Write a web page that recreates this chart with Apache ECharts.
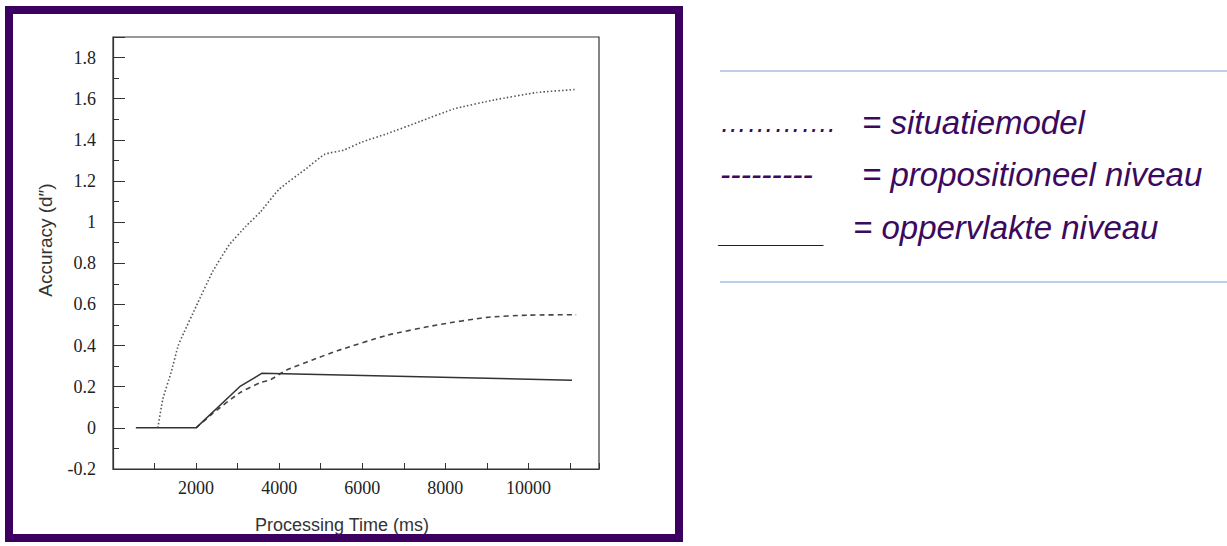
<!DOCTYPE html>
<html>
<head>
<meta charset="utf-8">
<script src="https://cdn.jsdelivr.net/npm/echarts@6/dist/echarts.min.js"></script>
<style>
  html, body { margin: 0; padding: 0; background: #ffffff; }
  #chart { width: 1227px; height: 546px; }
</style>
</head>
<body>
<div id="chart"></div>
<script>
// situatiemodel (dotted)
var situatieX = [1080, 1200, 1400, 1570, 1700, 2000, 2400, 2800, 3200, 3550, 4000, 4650, 5100, 5550, 6000, 6600, 7400, 8200, 9200, 10200, 11150];
var situatieY = [0, 0.14, 0.27, 0.40, 0.46, 0.59, 0.76, 0.89, 0.98, 1.05, 1.16, 1.26, 1.33, 1.35, 1.39, 1.43, 1.49, 1.55, 1.595, 1.63, 1.645];
// propositioneel niveau (dashed)
var propX = [2000, 2400, 3050, 3550, 3800, 4170, 4800, 5400, 6600, 7800, 9000, 10000, 11150];
var propY = [0, 0.07, 0.17, 0.22, 0.235, 0.28, 0.33, 0.375, 0.45, 0.50, 0.537, 0.548, 0.55];
// oppervlakte niveau (solid)
var oppX = [550, 2000, 3050, 3580, 11050];
var oppY = [0, 0, 0.2, 0.265, 0.232];

var xLabels = [2000, 4000, 6000, 8000, 10000];
var legendMarks = ['………….', '---------', '_______'];
var legendNames = ['= situatiemodel', '= propositioneel niveau', '= oppervlakte niveau'];

function pairs(xs, ys) {
  var out = [];
  for (var i = 0; i < xs.length; i++) out.push([xs[i], ys[i]]);
  return out;
}

var dom = document.getElementById('chart');
var myChart = echarts.init(dom, null, { renderer: 'svg' });

var ink = '#333333';
var purple = '#3b0a5e';
var markFont = ['italic 27px "Liberation Sans", sans-serif', 'italic 31px "Liberation Sans", sans-serif', 'italic 27px "Liberation Sans", sans-serif'];
var nameFont = 'italic 33px "Liberation Sans", sans-serif';
var nameX = [862, 862, 853];
var rowY = [122, 174, 227];
var markY = [123, 174, 234];

var graphics = [
  { type: 'rect', shape: { x: 9, y: 10, width: 670, height: 528 },
    style: { fill: 'none', stroke: '#3b0060', lineWidth: 8 }, z: 10 },
  { type: 'line', shape: { x1: 720, y1: 71, x2: 1227, y2: 71 },
    style: { stroke: '#a7bfe0', lineWidth: 1.5 } },
  { type: 'line', shape: { x1: 720, y1: 282, x2: 1227, y2: 282 },
    style: { stroke: '#a7bfe0', lineWidth: 1.5 } }
];
for (var i = 0; i < legendNames.length; i++) {
  graphics.push({ type: 'text', x: 720, y: markY[i],
    style: { text: legendMarks[i], fill: purple, font: markFont[i], verticalAlign: 'middle' } });
  graphics.push({ type: 'text', x: nameX[i], y: rowY[i],
    style: { text: legendNames[i], fill: purple, font: nameFont, verticalAlign: 'middle' } });
}

option = {
  backgroundColor: '#ffffff',
  animation: false,
  graphic: graphics,
  grid: { left: 113, top: 37, right: 628, bottom: 77, show: true, borderColor: ink, borderWidth: 1.2 },
  xAxis: {
    type: 'value', min: 0, max: 11700, interval: 1000,
    name: 'Processing Time (ms)', nameLocation: 'middle', nameGap: 47,
    nameTextStyle: { fontFamily: 'Liberation Sans', fontSize: 18, color: ink, padding: [0, 28, 0, 0] },
    axisLine: { onZero: false, lineStyle: { color: ink, width: 1.2 } },
    axisTick: { inside: true, length: 6, lineStyle: { color: ink } },
    splitLine: { show: false },
    axisLabel: {
      margin: 10, fontFamily: 'Liberation Serif', fontSize: 18, color: '#222',
      formatter: function (v) { return xLabels.indexOf(v) >= 0 ? String(v) : ''; }
    }
  },
  yAxis: {
    type: 'value', min: -0.2, max: 1.9, interval: 0.2,
    name: 'Accuracy (d\u2033)', nameLocation: 'middle', nameGap: 58, nameRotate: 90,
    nameTextStyle: { fontFamily: 'Liberation Sans', fontSize: 19, color: ink, padding: [0, 0, 0, 26] },
    axisLine: { onZero: false, lineStyle: { color: ink, width: 1.2 } },
    axisTick: { inside: true, length: 12, lineStyle: { color: ink } },
    minorTick: { show: true, splitNumber: 2, length: 6, lineStyle: { color: ink } },
    splitLine: { show: false },
    axisLabel: {
      margin: 17, fontFamily: 'Liberation Serif', fontSize: 18, color: '#222',
      formatter: function (v) {
        var r = Math.round(v * 10);
        if (r % 2 !== 0) return '';
        return String(r / 10);
      }
    }
  },
  series: [
    { name: 'situatiemodel', type: 'line', data: pairs(situatieX, situatieY), symbol: 'none',
      smooth: 0.15,
      lineStyle: { color: '#555', width: 1.6, type: [1.5, 2.2] } },
    { name: 'propositioneel niveau', type: 'line', data: pairs(propX, propY), symbol: 'none',
      smooth: 0.2,
      lineStyle: { color: '#444', width: 1.6, type: [5, 4] } },
    { name: 'oppervlakte niveau', type: 'line', data: pairs(oppX, oppY), symbol: 'none',
      lineStyle: { color: '#333', width: 1.5, type: 'solid' } }
  ]
};

if (option && typeof option === 'object') {
  myChart.setOption(option, true);
}
</script>
</body>
</html>
